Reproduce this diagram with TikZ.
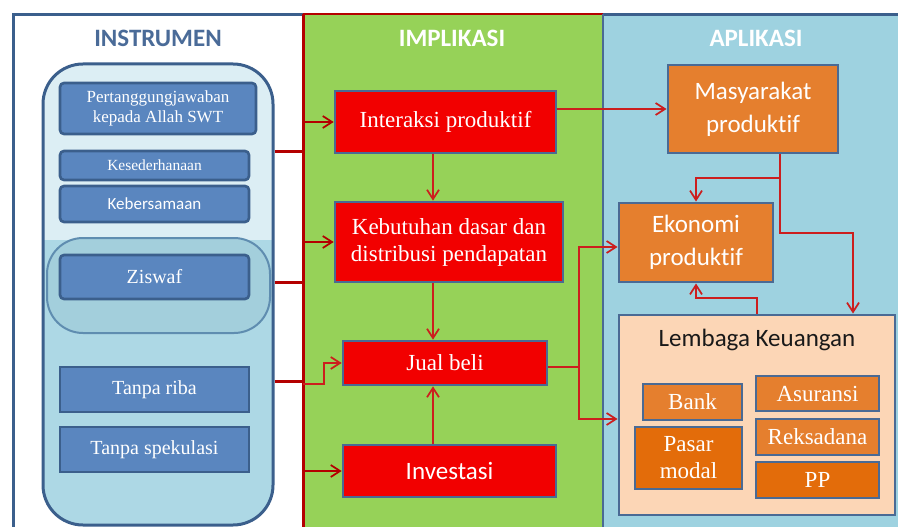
\documentclass[tikz,border=0pt]{standalone}
\usepackage{fontspec}
\setmainfont{Liberation Serif}
\newfontfamily\calibri[Ligatures=NoCommon]{Carlito}
\usetikzlibrary{arrows.meta,calc}

\definecolor{instEdge}{HTML}{3B5F8C}
\definecolor{instTitle}{HTML}{4A6B98}
\definecolor{instBox}{HTML}{5A86BF}
\definecolor{contTop}{HTML}{DCEEF4}
\definecolor{contLow}{HTML}{ADD8E5}
\definecolor{groupFill}{HTML}{A3CFDC}
\definecolor{groupEdge}{HTML}{5F8DB0}
\definecolor{implFill}{HTML}{96D258}
\definecolor{aplFill}{HTML}{9ED2E0}
\definecolor{redBox}{HTML}{F20000}
\definecolor{boxEdge}{HTML}{4A6A94}
\definecolor{orangeBox}{HTML}{E57F2E}
\definecolor{orangeDeep}{HTML}{E36C0A}
\definecolor{peach}{HTML}{FCD6B6}
\definecolor{busRed}{HTML}{B40000}
\definecolor{lineRed}{HTML}{CC1E1E}

\tikzset{
  px/.style 2 args={minimum width=#1*0.75pt,minimum height=#2*0.75pt},
  base/.style={inner sep=0pt,align=center,text=white},
  instbox/.style={base,draw=instEdge,fill=instBox,line width=2pt,rounded corners=3pt},
  implbox/.style={base,draw=boxEdge,fill=redBox,line width=2pt},
  aplbox/.style={base,draw=boxEdge,fill=orangeBox,line width=2.2pt},
  lkbox/.style={base,draw=boxEdge,fill=orangeBox,line width=2pt},
  serifS/.style={font={\fontsize{12.75}{15}\selectfont}},
  serifXS/.style={font={\fontsize{11.6}{14}\selectfont}},
  serifM/.style={font={\fontsize{15}{18}\selectfont}},
  serifL/.style={font={\fontsize{17.25}{20.25}\selectfont}},
  sansS/.style={font={\calibri\fontsize{12.75}{15}\selectfont}},
  sansL/.style={font={\calibri\fontsize{18.75}{24.75}\selectfont}},
  title/.style={font={\calibri\bfseries\fontsize{18.75}{22}\selectfont}},
  tip/.style={-{Straight Barb[length=7pt,width=9pt,line width=1.3pt]}},
  busline/.style={busRed,line width=2.25pt},
  feed/.style={tip,busRed,line width=1.8pt},
  flow/.style={tip,lineRed,line width=1.3pt},
  thinflow/.style={tip,lineRed,line width=1pt},
}

\begin{document}
\begin{tikzpicture}[x=0.75pt,y=-0.75pt]
\useasboundingbox (0,0) rectangle (898,527);
\fill[white] (0,0) rectangle (898,527);
\clip (0,0) rectangle (898,527);

% --- three column panels ---
\filldraw[draw=instEdge,fill=white,line width=2.25pt] (13.5,14.5) rectangle (303,545);
\fill[implFill] (303,14.5) rectangle (603,545);
\fill[aplFill] (603,14.5) rectangle (905,545);
\draw[instEdge,line width=2.25pt] (603,14.5) -- (905,14.5);
\draw[busRed,line width=1.5pt] (303,14.5) -- (603,14.5);
\draw[boxEdge,line width=1.5pt] (603,14.5) -- (603,545);
\coordinate (bus) at (303,14.5);
\draw[busline] (bus) -- (303,545);

\node[title,text=instTitle] (tInst) at (158,38) {INSTRUMEN};
\node[title,text=white] (tImpl) at (452,38) {IMPLIKASI};
\node[title,text=white] (tApl) at (756,38) {APLIKASI};

% --- instrument container ---
\fill[contTop,rounded corners=30pt] (43,64) rectangle (273,525);
\begin{scope}
  \clip (0,240) rectangle (898,540);
  \fill[contLow,rounded corners=30pt] (43,64) rectangle (273,525);
\end{scope}
\filldraw[fill=groupFill,draw=groupEdge,line width=1.5pt,rounded corners=27pt]
  (47,238) rectangle (270,333);
\node[draw=instEdge,line width=2.25pt,rounded corners=30pt,px={230}{461}] (cont) at (158,294.5) {};

\node[instbox,serifS,px={196}{51}] (tanggung) at (158,108.5) {Pertanggungjawaban\\kepada Allah SWT};
\node[instbox,serifXS,px={189}{29}] (sederhana) at (154.5,165.5) {Kesederhanaan};
\node[instbox,sansS,px={189}{36}] (sama) at (154.5,204) {Kebersamaan};
\node[instbox,serifM,px={189}{44}] (ziswaf) at (154.5,277) {Ziswaf};
\node[instbox,serifM,rounded corners=0pt,px={189}{45}] (riba) at (154.5,389.5) {Tanpa riba};
\node[instbox,serifM,rounded corners=0pt,px={189}{45}] (spek) at (154.5,449.5) {Tanpa spekulasi};

% --- implication boxes ---
\node[implbox,serifL,px={221}{62}] (interaksi) at (445.5,122) {Interaksi produktif};
\node[implbox,serifL,px={228}{80}] (kebutuhan) at (449,242) {Kebutuhan dasar dan\\distribusi pendapatan};
\node[implbox,serifL,px={204}{44}] (jual) at (445,363) {Jual beli};
\node[implbox,sansL,px={213}{52}] (investasi) at (449.5,471) {Investasi};

% --- application boxes ---
\node[aplbox,sansL,px={170}{88}] (masy) at (753,109) {Masyarakat\\produktif};
\node[aplbox,sansL,px={154}{79}] (eko) at (696,242.5) {Ekonomi\\produktif};
\node[draw=boxEdge,fill=peach,line width=2.2pt,px={276}{200}] (lk) at (757,415) {};
\node[sansL,text=black!90,inner sep=0pt] (lkTitle) at (757,340) {Lembaga Keuangan};
\node[lkbox,serifL,px={99}{36}] (bank) at (692.5,402) {Bank};
\node[lkbox,serifL,fill=orangeDeep,px={107}{62}] (pasar) at (688.5,458) {Pasar\\modal};
\node[lkbox,serifL,px={123}{35}] (asuransi) at (817.5,393.5) {Asuransi};
\node[lkbox,serifL,px={123}{36}] (reksa) at (817.5,437) {Reksadana};
\node[lkbox,serifL,fill=orangeDeep,px={123}{36}] (pp) at (817.5,480) {PP};

% --- instrument container to the bus ---
\coordinate (s1) at (303,152);
\coordinate (s2) at (303,282);
\coordinate (s3) at (303,381);
\draw[busline] (cont.east |- s1) -- (s1);
\draw[busline] (cont.east |- s2) -- (s2);
\draw[busline] (cont.east |- s3) -- (s3);

% --- bus to implication boxes ---
\draw[feed] (bus |- interaksi.west) -- (interaksi.west);
\draw[feed] (bus |- kebutuhan.west) -- (kebutuhan.west);
\coordinate (j0) at (303,384);
\draw[flow] (j0) -- (324,384) |- (jual.west);
\draw[feed] (bus |- investasi.west) -- (investasi.west);

% --- flow inside implication column ---
\draw[flow] (interaksi.south -| 433,0) -- (kebutuhan.north -| 433,0);
\draw[flow] (kebutuhan.south -| 433,0) -- (jual.north -| 433,0);
\draw[flow] (investasi.north -| 433,0) -- (jual.south -| 433,0);

% --- implication to application ---
\draw[thinflow] (interaksi.east |- masy.west) -- (masy.west);
\coordinate (jx) at (579,367);
\draw[lineRed,line width=1pt] (jual.east |- jx) -- (jx);
\draw[flow] (jx) |- (eko.west |- 0,247);
\draw[flow] (jx) |- (lk.west |- 0,419);

% --- flow inside application column ---
\coordinate (mj) at (780,178);
\draw[lineRed,line width=1.3pt] (masy.south -| mj) -- (mj);
\draw[flow] (mj) -| (eko.north);
\draw[flow] (mj) -- (780,233) -| (lk.north -| 853,0);
\draw[flow] (lk.north) -- (757,298) -| (eko.south);
\end{tikzpicture}
\end{document}
